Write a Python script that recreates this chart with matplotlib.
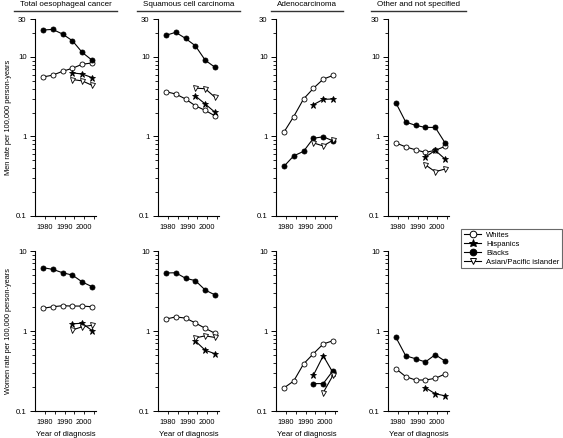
import matplotlib.pyplot as plt
import numpy as np
from matplotlib.lines import Line2D
from matplotlib.ticker import FixedLocator, NullFormatter, FixedFormatter

plt.rcParams['font.family'] = ['Liberation Sans', 'DejaVu Sans']

# Годы диагностики (середины периодов)
years = [1979, 1984, 1989, 1994, 1999, 2004]
years_recent = [1994, 1999, 2004]

groups = ['Whites', 'Hispanics', 'Blacks', 'Asian/Pacific islander']
titles = ['Total oesophageal cancer', 'Squamous cell carcinoma',
          'Adenocarcinoma', 'Other and not specified']

# Мужчины, частота на 100 000 человеко-лет
men_total = {'Whites': [5.6, 5.9, 6.6, 7.2, 8.1, 8.4],
             'Hispanics': [6.3, 6.1, 5.5],
             'Blacks': [21.8, 22.2, 19.4, 16.0, 11.4, 9.1],
             'Asian/Pacific islander': [5.2, 5.0, 4.4]}
men_scc = {'Whites': [3.66, 3.42, 2.96, 2.43, 2.13, 1.81],
           'Hispanics': [3.23, 2.56, 2.01],
           'Blacks': [18.7, 20.4, 17.1, 13.8, 9.1, 7.4],
           'Asian/Pacific islander': [4.06, 3.98, 3.11]}
men_adeno = {'Whites': [1.13, 1.78, 2.96, 4.03, 5.26, 5.86],
             'Hispanics': [2.51, 2.93, 2.96],
             'Blacks': [0.42, 0.57, 0.65, 0.95, 0.99, 0.88],
             'Asian/Pacific islander': [0.83, 0.76, 0.90]}
men_other = {'Whites': [0.83, 0.74, 0.68, 0.63, 0.67, 0.75],
             'Hispanics': [0.55, 0.67, 0.52],
             'Blacks': [2.65, 1.52, 1.38, 1.30, 1.30, 0.83],
             'Asian/Pacific islander': [0.44, 0.36, 0.39]}

# Женщины
women_total = {'Whites': [1.92, 2.01, 2.07, 2.05, 2.05, 2.01],
               'Hispanics': [1.23, 1.25, 1.01],
               'Blacks': [6.19, 5.9, 5.35, 5.0, 4.1, 3.58],
               'Asian/Pacific islander': [1.03, 1.13, 1.18]}
women_scc = {'Whites': [1.41, 1.50, 1.45, 1.26, 1.08, 0.935],
             'Hispanics': [0.75, 0.574, 0.52],
             'Blacks': [5.31, 5.35, 4.56, 4.26, 3.25, 2.82],
             'Asian/Pacific islander': [0.82, 0.87, 0.83]}
women_adeno = {'Whites': [0.194, 0.237, 0.387, 0.52, 0.688, 0.757],
               'Hispanics': [0.28, 0.49, 0.30],
               'Blacks': [0.22, 0.22, 0.32],
               'Asian/Pacific islander': [np.nan, 0.17, 0.28]}
women_other = {'Whites': [0.338, 0.269, 0.244, 0.244, 0.256, 0.29],
               'Hispanics': [0.196, 0.164, 0.155],
               'Blacks': [0.834, 0.49, 0.45, 0.41, 0.506, 0.42]}

markers = {'Whites': dict(marker='o', mfc='white'),
           'Hispanics': dict(marker='*', mfc='black', ms=5),
           'Blacks': dict(marker='o', mfc='black'),
           'Asian/Pacific islander': dict(marker='v', mfc='white')}

fig = plt.figure(figsize=(5.63, 4.38), dpi=100)
W, H = 563, 438
FS = 5.3

lefts = [35, 158, 276, 388]
width = 61
rows = [  # (верх px, низ px, пределы, метки)
    (19, 216, (0.1, 30), [0.1, 1, 10, 30]),
    (251, 411, (0.1, 10), [0.1, 1, 10]),
]
data_rows = [[men_total, men_scc, men_adeno, men_other],
             [women_total, women_scc, women_adeno, women_other]]
ylabels = ['Men rate per 100,000 person-years', 'Women rate per 100,000 person-years']

minor = [v * m for v in [0.1, 1, 10] for m in range(2, 10)]

for r, (top, bot, ylim, yt) in enumerate(rows):
    for c in range(4):
        ax = fig.add_axes([lefts[c] / W, 1 - bot / H, width / W, (bot - top) / H])
        ax.set_yscale('log')
        ax.set_ylim(*ylim)
        ax.set_xlim(1975, 2006)
        ax.yaxis.set_major_locator(FixedLocator(yt))
        ax.yaxis.set_major_formatter(FixedFormatter([('%g' % v) for v in yt]))
        ax.yaxis.set_minor_locator(FixedLocator([m for m in minor if ylim[0] < m < ylim[1]]))
        ax.yaxis.set_minor_formatter(NullFormatter())
        ax.xaxis.set_major_locator(FixedLocator([1980, 1990, 2000]))
        ax.xaxis.set_minor_locator(FixedLocator([1985, 1995, 2005]))
        ax.tick_params(axis='y', which='major', length=3.5, width=0.7, labelsize=FS + 0.3, pad=2.5)
        ax.tick_params(axis='y', which='minor', length=2, width=0.6)
        ax.tick_params(axis='x', which='both', length=2.5, width=0.6, labelsize=FS, pad=3)
        for s in ['top', 'right']:
            ax.spines[s].set_visible(False)
        for s in ['left', 'bottom']:
            ax.spines[s].set_linewidth(0.8)

        d = data_rows[r][c]
        for g in groups:
            if g not in d:
                continue
            vals = d[g]
            xs = years if len(vals) == 6 else years_recent
            st = dict(markers[g])
            ms = st.pop('ms', 3.6)
            ax.plot(xs, vals, color='black', lw=0.8, mec='black', mew=0.6, ms=ms, **st)

        if r == 1:
            ax.set_xlabel('Year of diagnosis', fontsize=FS + 0.3, labelpad=4)
        if c == 0:
            ax.set_ylabel(ylabels[r], fontsize=FS, labelpad=3)

# Заголовки колонок с подчёркиванием
title_texts = []
for c in range(4):
    t = fig.text((lefts[c] + width / 2) / W, 1 - 4.5 / H, titles[c],
                 ha='center', va='center', fontsize=FS + 0.5)
    title_texts.append(t)
fig.canvas.draw()
rend = fig.canvas.get_renderer()
for t in title_texts:
    bb = t.get_window_extent(rend)
    fig.add_artist(Line2D([(bb.x0 - 6) / W, (bb.x1 + 6) / W], [1 - 10.5 / H, 1 - 10.5 / H],
                          transform=fig.transFigure, color='#333333', lw=1.0))

# Легенда
handles = []
for g in groups:
    st = dict(markers[g])
    ms = st.pop('ms', 3.6)
    handles.append(Line2D([], [], color='black', lw=0.8, mec='black', mew=0.7, ms=ms + 1.2, **st))
leg = fig.legend(handles, groups, loc='upper right', bbox_to_anchor=(562 / W, 1 - 229 / H),
                 fontsize=FS + 0.2, frameon=True, fancybox=False, handlelength=2.3,
                 borderpad=0.35, labelspacing=0.2, handletextpad=0.6, borderaxespad=0)
leg.get_frame().set_edgecolor('#444444')
leg.get_frame().set_linewidth(0.8)

plt.savefig('out.png', dpi=100)
